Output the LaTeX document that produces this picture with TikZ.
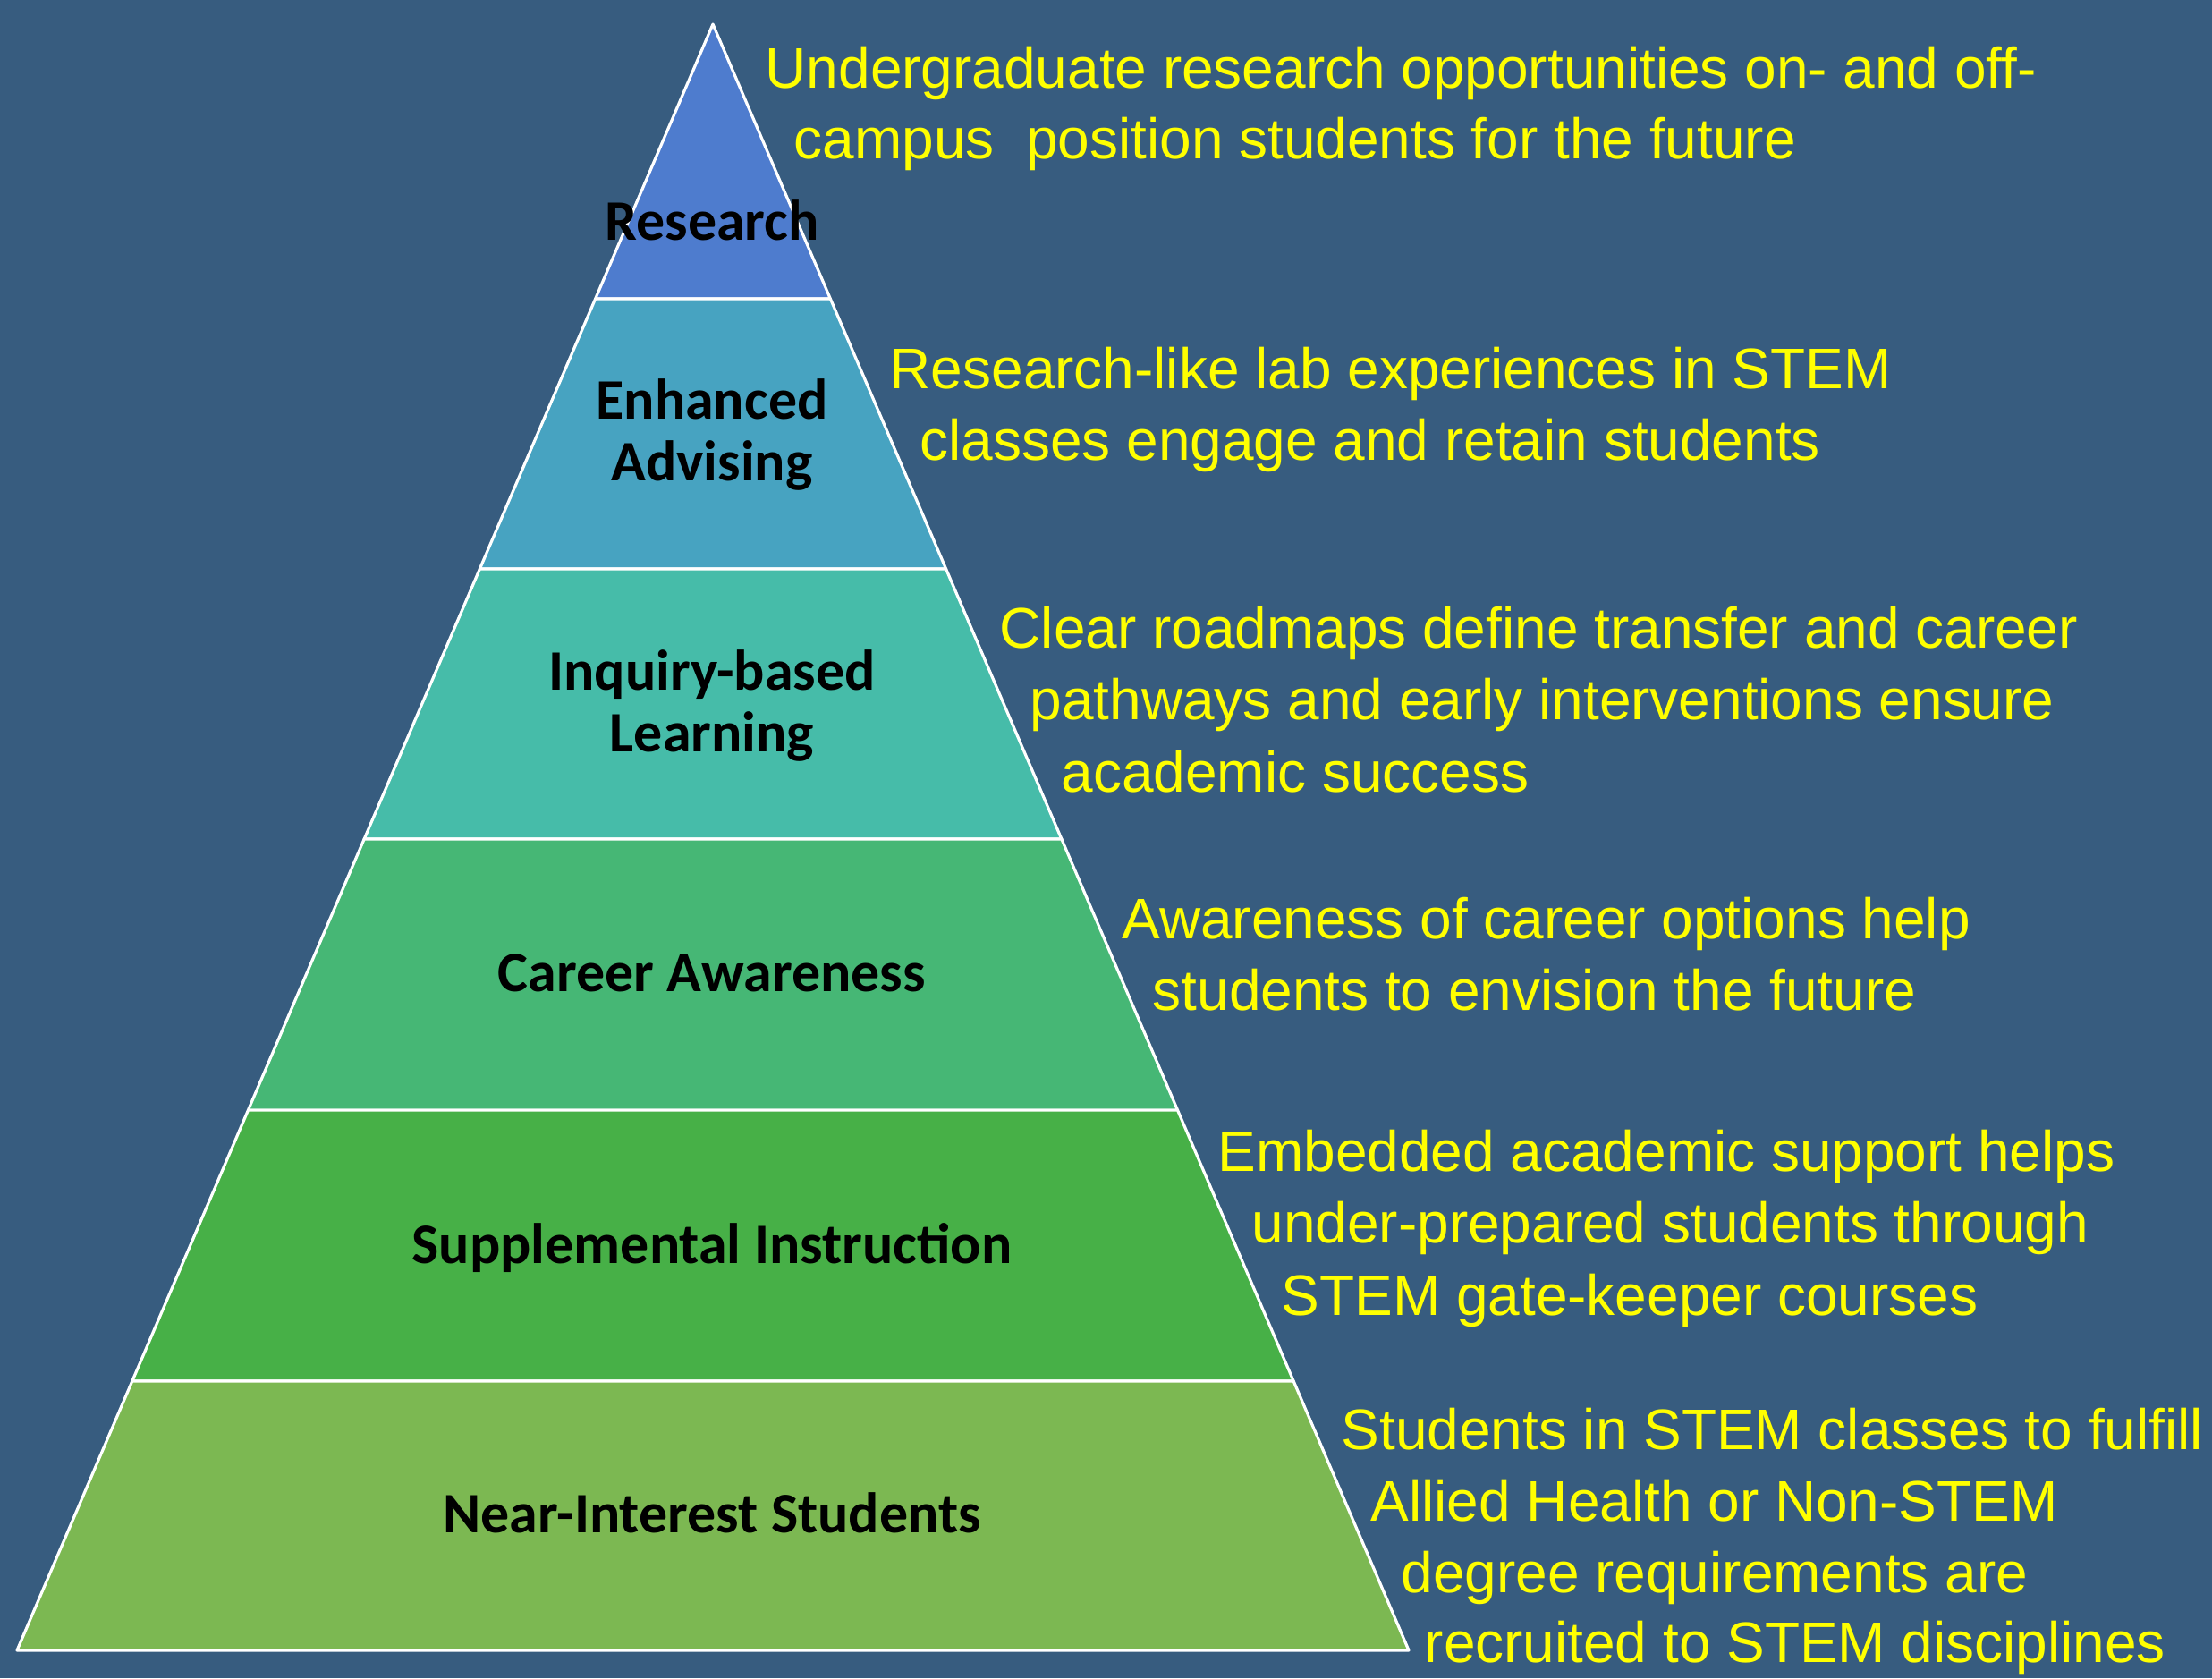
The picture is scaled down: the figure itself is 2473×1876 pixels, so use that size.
\documentclass[tikz,border=0pt]{standalone}
\usepackage{fontspec}
\setmainfont{Liberation Sans}
\newfontfamily\tierfont{Carlito}
\usetikzlibrary{calc,positioning}
\definecolor{bgblue}{RGB}{55,92,127}
\definecolor{noteyellow}{RGB}{255,255,0}
\definecolor{resblue}{RGB}{78,124,206}
\definecolor{advteal}{RGB}{71,163,193}
\definecolor{inqteal}{RGB}{70,188,169}
\definecolor{cargreen}{RGB}{70,183,117}
\definecolor{supgreen}{RGB}{71,176,71}
\definecolor{neargreen}{RGB}{124,184,82}
\tikzset{
  layer/.style={draw=white, line width=0.9pt, line join=round},
  tier/.style={font=\tierfont\bfseries\fontsize{18.2}{19.6}\selectfont, text=black, inner sep=0pt, align=center, anchor=base},
  note/.style={font=\fontsize{18.2}{22.8}\selectfont, text=noteyellow, inner sep=0pt, anchor=base west},
}

\begin{document}
\begin{tikzpicture}[x=0.1mm,y=-0.1mm]
    % Background
    \fill[bgblue] (0,0) rectangle (2473,1876);
    % Pyramid corners
    \coordinate (apex) at (797,27);
    \coordinate (bl) at (19,1845);
    \coordinate (br) at (1575,1845);
    % Layers, top to bottom
    \foreach \top/\bot/\col in {0/0.1689/resblue, 0.1689/0.335/advteal, 0.335/0.5011/inqteal,
        0.5011/0.6678/cargreen, 0.6678/0.8344/supgreen, 0.8344/1/neargreen}
        \filldraw[layer, fill=\col] ($(apex)!\top!(bl)$) -- ($(apex)!\bot!(bl)$)
            -- ($(apex)!\bot!(br)$) -- ($(apex)!\top!(br)$) -- cycle;
    % Layer names (base = last line)
    \node[tier] (research) at (796,268) {Research};
    \node[tier] (advising) at (796,537) {Enhanced\\Advising};
    \node[tier] (inquiry) at (796,840) {Inquiry-based\\Learning};
    \node[tier] (career) at (796,1108) {Career Awareness};
    \node[tier] (supplemental) at (796,1412) {Supplemental Instruction};
    \node[tier] (nearinterest) at (796,1713) {Near-Interest Students};
    % Notes on the right
    \node[note] (resnote1) at (855,98) {Undergraduate research opportunities on- and off-};
    \node[note] (resnote2) at (887,177) {campus\ \ position students for the future};
    \node[note] (advnote1) at (994,434) {Research-like lab experiences in STEM};
    \node[note] (advnote2) at (1028,514) {classes engage and retain students};
    \node[note] (inqnote1) at (1117,724) {Clear roadmaps define transfer and career};
    \node[note] (inqnote2) at (1151,804) {pathways and early interventions ensure};
    \node[note] (inqnote3) at (1186,885) {academic success};
    \node[note] (carnote1) at (1254,1049) {Awareness of career options help};
    \node[note] (carnote2) at (1288,1129) {students to envision the future};
    \node[note] (supnote1) at (1361,1309) {Embedded academic support helps};
    \node[note] (supnote2) at (1399,1389) {under-prepared students through};
    \node[note] (supnote3) at (1432,1470) {STEM gate-keeper courses};
    \node[note] (nearnote1) at (1499,1620) {Students in STEM classes to fulfill};
    \node[note] (nearnote2) at (1532,1700) {Allied Health or Non-STEM};
    \node[note] (nearnote3) at (1566,1780) {degree requirements are};
    \node[note] (nearnote4) at (1592,1858) {recruited to STEM disciplines};
\end{tikzpicture}
\end{document}
